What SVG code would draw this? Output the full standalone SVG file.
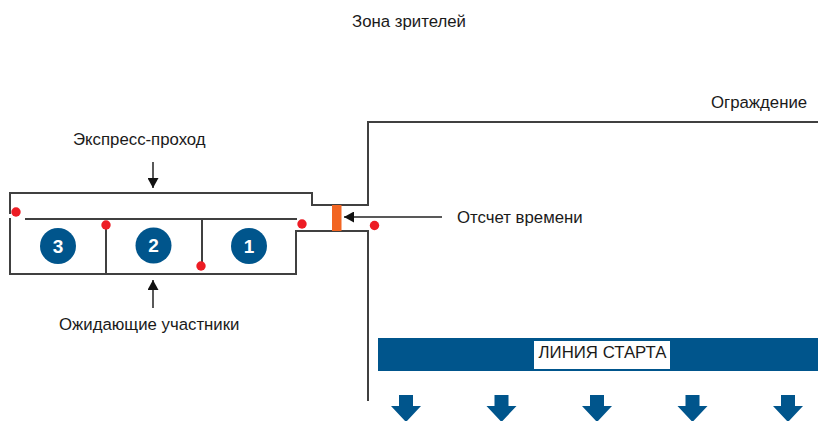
<svg xmlns="http://www.w3.org/2000/svg" width="818" height="421" viewBox="0 0 818 421">
<style>
text{font-family:"Liberation Sans",Arial,sans-serif;font-size:16.800px;fill:#1a1a1a}
.l{fill:none;stroke:#404040;stroke-width:2}
.a{fill:none;stroke:#222;stroke-width:1.5}
.d{fill:#ed1c24}
.c{fill:#00558c}
.n{font-size:19px;font-weight:bold;fill:#fff;text-anchor:middle}
</style>
<defs>
<marker id="ah" markerUnits="userSpaceOnUse" markerWidth="11" markerHeight="11" refX="10" refY="5.500" orient="auto"><path d="M0 0L10 5.500L0 11Z" fill="#111"/></marker>
<path id="da" d="M-7 0H7V11H15L0 27L-15 11H-7Z" fill="#00558c"/>
</defs>
<rect width="818" height="421" fill="#fff"/>
<g id="connectors">
<path class="l" d="M10 214V193H312V205H368V122H818"/>
<path class="l" d="M25 219H297"/>
<path class="l" d="M10 218V274H296V231H368V401"/>
<path class="l" d="M106 222V274"/>
<path class="l" d="M202 219V266"/>
<path class="a" d="M153 162V188" marker-end="url(#ah)"/>
<path class="a" d="M153 308V280" marker-end="url(#ah)"/>
<path class="a" d="M442 217H344" marker-end="url(#ah)"/>
</g>
<g id="gate"><rect x="332" y="205" width="9.500" height="26" fill="#f26522"/></g>
<g id="sensors">
<circle class="d" cx="16" cy="212" r="4.700"/><circle class="d" cx="106" cy="225" r="4.700"/><circle class="d" cx="201" cy="266" r="4.700"/><circle class="d" cx="302" cy="224" r="4.700"/><circle class="d" cx="374.500" cy="225.500" r="4.700"/>
</g>
<g id="lane3"><circle class="c" cx="58" cy="246" r="18"/><text class="n" x="58" y="253">3</text></g>
<g id="lane2"><circle class="c" cx="153.500" cy="245.500" r="18"/><text class="n" x="153.500" y="252">2</text></g>
<g id="lane1"><circle class="c" cx="249" cy="246" r="18"/><text class="n" x="249" y="253">1</text></g>
<g id="start-line">
<rect x="378" y="338" width="440" height="33" fill="#00558c"/>
<rect x="534" y="341" width="136" height="28" fill="#fff"/>
<text x="602.500" y="358" text-anchor="middle">ЛИНИЯ СТАРТА</text>
</g>
<g id="arrows"><use href="#da" x="406" y="395"/><use href="#da" x="501.500" y="395"/><use href="#da" x="597" y="395"/><use href="#da" x="692.500" y="395"/><use href="#da" x="788" y="395"/></g>
<g id="labels">
<text x="352" y="27">Зона зрителей</text>
<text x="711" y="108">Ограждение</text>
<text x="73" y="145">Экспресс-проход</text>
<text x="457" y="223">Отсчет времени</text>
<text x="59" y="330">Ожидающие участники</text>
</g>
</svg>
